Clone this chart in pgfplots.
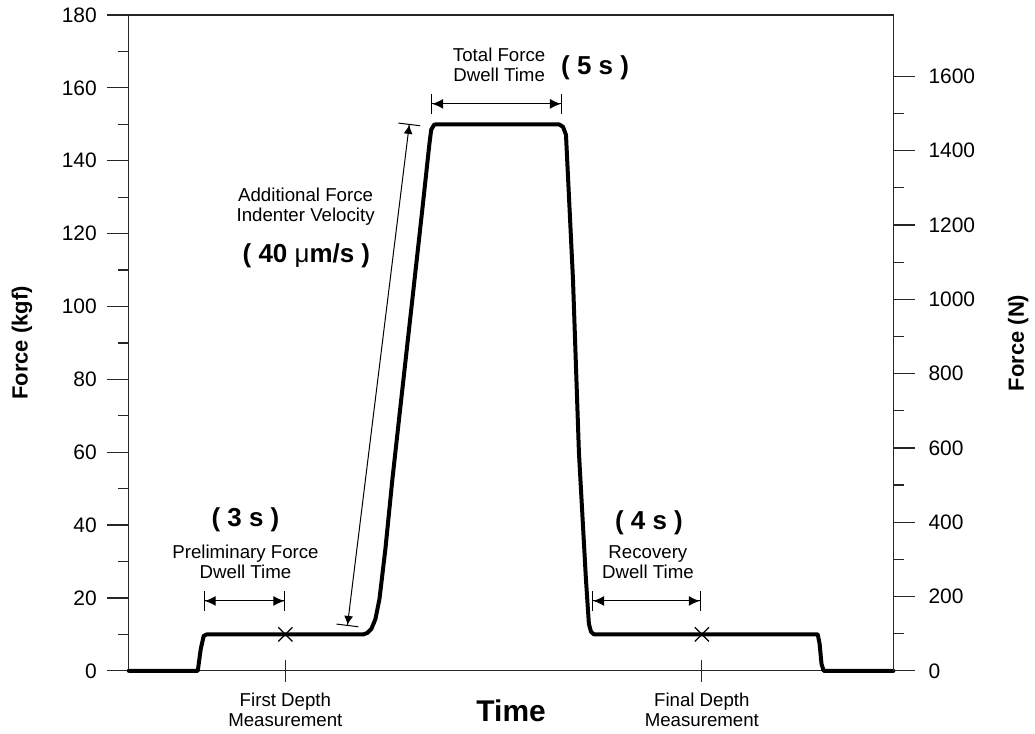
\documentclass[border=0pt]{standalone}
\usepackage{fontspec}
\setmainfont{Liberation Sans}
\usepackage{pgfplots}
\pgfplotsset{compat=1.18}
\usetikzlibrary{arrows.meta}

\newcommand\annfont{\fontsize{9.35}{10}\selectfont}
\newcommand\parfont{\fontsize{13}{15}\selectfont\bfseries}

% force vs time (time in s, force in kgf)
\pgfplotstableread{
t      f
0      0
2.52   0
2.56   0
2.67   6
2.78   9.6
2.89   10
8.70   10
8.85   10.4
9.00   11.5
9.15   14.2
9.30   19.7
9.52   33.4
9.78   52.6
10.15  77.3
10.52  101.9
10.89  126.6
11.15  144.4
11.22  148.5
11.33  149.9
11.44  150
15.96  150
16.11  149.3
16.22  147.1
16.48  107.4
16.70  60
16.96  25.2
17.07  12.9
17.15  10.7
17.26  10
25.56  10
25.63  7.4
25.70  1.9
25.78  0
28.37  0
}\forcecurve

\begin{document}
\begin{tikzpicture}
\begin{axis}[
  scale only axis, width=383pt, height=328.5pt,
  xmin=0, xmax=28.37, ymin=0, ymax=180,
  clip=false,
  axis line style={black!85, line width=0.6pt},
  tick style={black!85, line width=0.6pt},
  major tick length=11pt, minor tick length=5.5pt,
  ytick={0,20,...,180}, minor y tick num=1, ytick pos=left, ytick align=outside,
  xtick={5.81,21.26}, xtick pos=bottom, xtick align=center,
  xticklabels={{First Depth\\Measurement},{Final Depth\\Measurement}},
  xticklabel style={align=center, font=\annfont, yshift=-2pt},
  yticklabel style={font=\fontsize{10.5}{12}\selectfont, xshift=-1.5pt},
  /pgf/number format/assume math mode=true,
  xlabel={Time}, ylabel={Force (kgf)},
  every axis x label/.style={at={(axis description cs:0.5,-0.061)}, anchor=center,
    font=\fontsize{15}{18}\selectfont\bfseries},
  every axis y label/.style={at={(axis description cs:-0.1397,0.5)}, anchor=center,
    rotate=90, font=\fontsize{11}{13}\selectfont\bfseries},
]
\addplot[black, line width=2pt, line join=round, line cap=round] table[x=t, y=f] {\forcecurve};
\addplot[only marks, mark=x, mark size=5pt, mark options={line width=0.6pt}, black]
  coordinates {(5.81,10) (21.26,10)};

% dimension arrows
\tikzset{dim/.style={black, line width=0.5pt,
  {Bar[width=10pt]Latex[length=5.5pt,width=5pt]}-{Latex[length=5.5pt,width=5pt]Bar[width=10pt]}}}
\draw[dim] (axis cs:2.78,19.18) -- (axis cs:5.81,19.18);
\draw[dim] (axis cs:11.22,155.6) -- (axis cs:16.07,155.6);
\draw[dim] (axis cs:17.19,19.18) -- (axis cs:21.22,19.18);
\draw[black, line width=0.5pt,
  {Bar[width=11pt]Latex[length=4.5pt,width=4.5pt]}-{Latex[length=4.5pt,width=4.5pt]Bar[width=11pt]}]
  (axis cs:8.11,12.33) -- (axis cs:10.41,150.1);

% annotations
\node[align=center, font=\annfont] at (axis cs:13.74,166.3) {Total Force\\Dwell Time};
\node[font=\parfont] at (axis cs:17.30,165.5) {( 5 s )};
\node[align=center, font=\annfont] at (axis cs:6.56,127.4) {Additional Force\\Indenter Velocity};
\node[font=\parfont] at (axis cs:6.59,114.0) {( 40 {\mdseries μ}m/s )};
\node[font=\parfont] at (axis cs:4.33,41.4) {( 3 s )};
\node[align=center, font=\annfont] at (axis cs:4.33,29.9) {Preliminary Force\\Dwell Time};
\node[font=\parfont] at (axis cs:19.30,40.5) {( 4 s )};
\node[align=center, font=\annfont] at (axis cs:19.26,29.9) {Recovery\\Dwell Time};

\path ([xshift=-64.5pt,yshift=-31pt]rel axis cs:0,0) coordinate (bbsw);
\path ([xshift=70pt,yshift=7.5pt]rel axis cs:1,1) coordinate (bbne);
\end{axis}

\begin{axis}[
  scale only axis, width=383pt, height=328.5pt,
  xmin=0, xmax=28.37, ymin=0, ymax=1765.197,
  axis y line*=right, axis x line=none,
  axis line style={black!85, line width=0.6pt},
  tick style={black!85, line width=0.6pt},
  major tick length=11pt, minor tick length=5.5pt,
  ytick={0,200,...,1600}, minor y tick num=1, tick align=outside,
  yticklabel style={font=\fontsize{10.5}{12}\selectfont, xshift=3pt},
  /pgf/number format/assume math mode=true,
  /pgf/number format/1000 sep={},
  ylabel={Force (N)},
  every axis y label/.style={at={(axis description cs:1.163,0.5)}, anchor=center,
    rotate=90, font=\fontsize{11}{13}\selectfont\bfseries},
]
\end{axis}
\path (bbsw) rectangle (bbne);
\end{tikzpicture}
\end{document}
